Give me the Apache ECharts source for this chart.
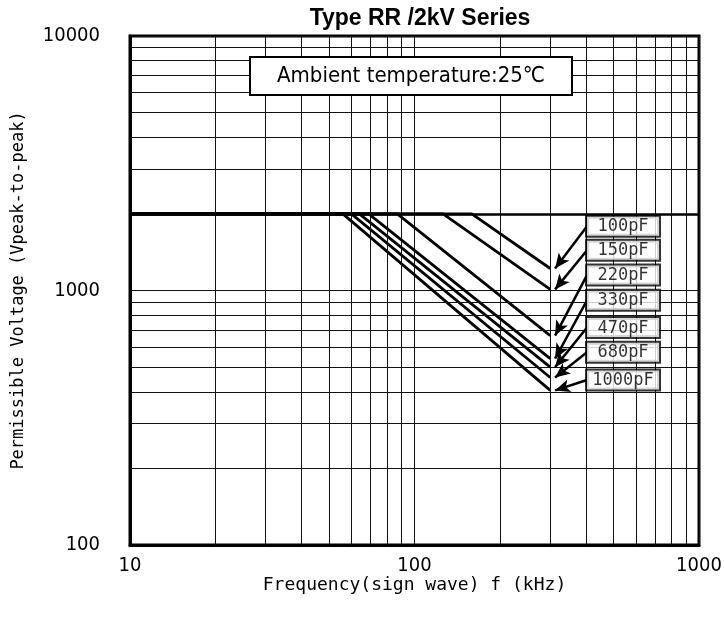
<!DOCTYPE html>
<html>
<head>
<meta charset="utf-8">
<script src="https://cdn.jsdelivr.net/npm/echarts@6/dist/echarts.min.js"></script>
<style>
html,body{margin:0;padding:0;background:#fff;}
#chart{width:724px;height:618px;}
</style>
</head>
<body>
<div id="chart"></div>
<script>
// ---- data ----
const capLabels = ['100pF', '150pF', '220pF', '330pF', '470pF', '680pF', '1000pF'];
const flatVolt = 2000;            // flat limit (Vp-p)
const startFreq = 10;             // kHz
const kneeFreq = [159, 126, 87, 69, 64, 60, 56];   // kHz where the line leaves 2000 V
const endFreq = 300;              // kHz
const endVolt = [1220, 1010, 665, 540, 500, 455, 405];  // Vp-p at 300 kHz
const tagFreq = 404;              // label anchor frequency (kHz)
const tagVolt = [1790, 1440, 1150, 915, 715, 572, 445]; // label anchor voltage
const arrowTipFreq = 312;
const xMinorGrid = [20, 30, 40, 50, 60, 70, 80, 90, 200, 300, 400, 500, 600, 700, 800, 900];
const yMinorGrid = [200, 300, 400, 500, 600, 700, 800, 900, 3000, 4000, 5000, 6000, 7000, 8000, 9000];
const yBoldGrid = [2000];
const xRange = [10, 1000];
const yRange = [100, 10000];
const titleText = 'Type RR /2kV Series';
const noteText = 'Ambient temperature:25\u2103';
const xName = 'Frequency(sign wave) f (kHz)';
const yName = 'Permissible Voltage (Vpeak-to-peak)';

const monoFont = "'DejaVu Sans Mono', monospace";
const numFont = "'DejaVu Sans Condensed', 'DejaVu Sans', sans-serif";

const chart = echarts.init(document.getElementById('chart'), null, {renderer: 'canvas'});

const series = [];
// grid lines through the axes' own scales
series.push({
  type: 'line', data: [], silent: true, z: 1,
  markLine: {
    silent: true, symbol: ['none', 'none'], animation: false,
    label: {show: false},
    lineStyle: {color: '#111', width: 1, type: 'solid'},
    data: xMinorGrid.map(v => ({xAxis: v})).concat(yMinorGrid.map(v => ({yAxis: v})))
  }
});
series.push({
  type: 'line', data: [], silent: true, z: 1,
  markLine: {
    silent: true, symbol: ['none', 'none'], animation: false,
    label: {show: false},
    lineStyle: {color: '#000', width: 2.5, type: 'solid'},
    data: yBoldGrid.map(v => ({yAxis: v}))
  }
});

capLabels.forEach((name, i) => {
  series.push({
    name: name,
    type: 'line',
    symbol: 'none',
    z: 3,
    lineStyle: {color: '#000', width: 2.8},
    data: [[startFreq, flatVolt], [kneeFreq[i], flatVolt], [endFreq, endVolt[i]]],
    markLine: {
      silent: true, animation: false,
      symbol: ['none', 'arrow'], symbolSize: [10, 15],
      label: {show: false},
      lineStyle: {color: '#000', width: 2.5, type: 'solid'},
      data: [[{coord: [tagFreq, tagVolt[i]]}, {coord: [arrowTipFreq, endVolt[i]]}]]
    }
  });
});

// label boxes
series.push({
  type: 'scatter',
  symbolSize: 0,
  z: 5,
  silent: true,
  data: capLabels.map((n, i) => ({value: [tagFreq, tagVolt[i]], name: n})),
  label: {
    show: true,
    position: 'right',
    distance: 0,
    formatter: p => '{t|' + p.name + '}',
    backgroundColor: '#fff',
    borderColor: '#000',
    borderWidth: 2,
    padding: [1, 3, 0, 3],
    rich: {
      t: {fontFamily: monoFont, fontSize: 17, color: '#000', width: 66, align: 'center', lineHeight: 18}
    }
  }
});

const option = {
  backgroundColor: '#fff',
  animation: false,
  title: [
    {
      text: titleText,
      left: 415, top: 2, textAlign: 'center',
      textStyle: {fontFamily: "'Liberation Sans', Arial, sans-serif", fontWeight: 'bold', fontSize: 23, color: '#000'}
    },
    {
      text: noteText,
      left: 250, top: 57,
      backgroundColor: '#fff',
      borderColor: '#000', borderWidth: 2,
      padding: [8, 27, 8, 27],
      textStyle: {fontFamily: numFont, fontWeight: 'normal', fontSize: 22, color: '#000'}
    }
  ],
  grid: {left: 130, right: 25, top: 36, bottom: 73, show: true, borderColor: '#000', borderWidth: 3, backgroundColor: '#fff', outerBoundsMode: 'none', containLabel: false},
  xAxis: {
    type: 'log', logBase: 10, min: xRange[0], max: xRange[1],
    name: xName, nameLocation: 'middle', nameGap: 31, nameMoveOverlap: false,
    nameTextStyle: {fontFamily: monoFont, fontSize: 18, color: '#000'},
    axisLine: {show: true, lineStyle: {color: '#000', width: 3}},
    axisTick: {show: false},
    axisLabel: {fontFamily: numFont, fontSize: 20, color: '#000', margin: 11, formatter: v => String(v)},
    splitLine: {show: true, lineStyle: {color: '#111', width: 1}},
    minorTick: {show: false}, minorSplitLine: {show: false}
  },
  yAxis: {
    type: 'log', logBase: 10, min: yRange[0], max: yRange[1],
    name: yName, nameLocation: 'middle', nameGap: 103, nameRotate: 90,
    nameTextStyle: {fontFamily: monoFont, fontSize: 17, color: '#000'},
    axisLine: {show: true, lineStyle: {color: '#000', width: 3}},
    axisTick: {show: false},
    axisLabel: {fontFamily: numFont, fontSize: 20, color: '#000', margin: 30, formatter: v => String(v)},
    splitLine: {show: true, lineStyle: {color: '#111', width: 1}},
    minorTick: {show: false}, minorSplitLine: {show: false}
  },
  series: series
};
chart.setOption(option);
</script>
</body>
</html>
